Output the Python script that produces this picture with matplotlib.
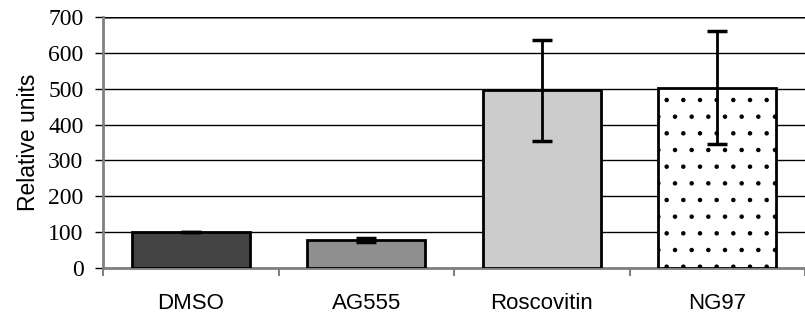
import numpy as np
import matplotlib.pyplot as plt

categories = ["DMSO", "AG555", "Roscovitin", "NG97"]
values = [100, 78, 496, 503]
errors = [1, 6, 141, 157]
colors = ["#444444", "#8f8f8f", "#cccccc", "#ffffff"]
hatches = [None, None, None, "."]

plt.rcParams['hatch.linewidth'] = 0.8
fig = plt.figure(figsize=(8.05, 3.22), dpi=100)
ax = fig.add_axes([0.128, 0.168, 0.872, 0.779])

x = np.arange(len(categories))
for i in range(len(categories)):
    ax.bar(x[i], values[i], width=0.67, color=colors[i], edgecolor="black",
           linewidth=2, hatch=hatches[i], zorder=3)
    ax.errorbar(x[i], values[i], yerr=errors[i], color="black", capsize=7,
                capthick=2.5, elinewidth=2, zorder=4)

ax.set_xlim(-0.5, 3.5)
ax.set_ylim(0, 700)
ax.set_yticks(range(0, 701, 100))
ax.set_yticklabels([str(v) for v in range(0, 701, 100)], family="Liberation Serif", fontsize=17)
ax.yaxis.grid(True, color="black", linewidth=1, zorder=0)
ax.set_xticks(x)
ax.set_xticklabels(categories, family="Liberation Sans", fontsize=16)
ax.set_xticks(np.arange(-0.5, 4, 1), minor=True)
ax.tick_params(axis="x", which="major", length=0, pad=18)
ax.tick_params(axis="x", which="minor", length=6, color="#808080", width=1.5)
ax.tick_params(axis="y", length=6, color="black", width=1, pad=8)
ax.set_ylabel("Relative units", family="Liberation Sans", fontsize=16.5, labelpad=6)

for s in ["top", "right"]:
    ax.spines[s].set_visible(False)
ax.spines["left"].set_color("#808080")
ax.spines["left"].set_linewidth(2)
ax.spines["bottom"].set_color("#808080")
ax.spines["bottom"].set_linewidth(2)
ax.axhline(700, color="#808080", linewidth=2, zorder=1)

fig.savefig("out.png", dpi=100)
